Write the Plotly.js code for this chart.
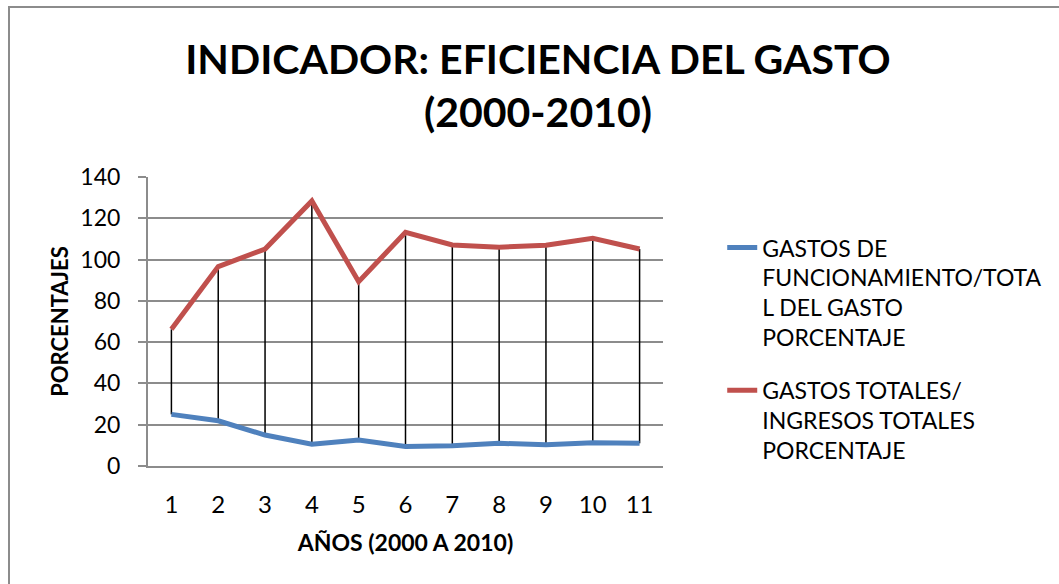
<!DOCTYPE html>
<html>
<head>
<meta charset="utf-8">
<script src="https://cdn.plot.ly/plotly-3.0.1.min.js"></script>
<style>
  html, body { margin: 0; padding: 0; background: #fff; }
  #wrap { position: relative; width: 1059px; height: 584px; overflow: hidden; }
  #chart { width: 1059px; height: 584px; }
  #frame { position: absolute; left: 8px; top: 6px; width: 1100px; height: 640px;
           border: 2px solid #8c8c8c; pointer-events: none; box-sizing: border-box; }
</style>
</head>
<body>
<div id="wrap">
  <div id="chart"></div>
  <div id="frame"></div>
</div>
<script>
// ---- data ----
const years = [1, 2, 3, 4, 5, 6, 7, 8, 9, 10, 11];
const gastosFuncionamiento = [25.0, 21.9, 15.0, 10.6, 12.6, 9.4, 9.8, 11.0, 10.3, 11.3, 11.0];
const gastosTotales = [66.2, 96.6, 105.1, 128.4, 89.3, 113.2, 107.1, 106.0, 106.9, 110.3, 105.1];
const seriesNames = [
  'GASTOS DE<br>FUNCIONAMIENTO/TOTA<br>L DEL GASTO<br>PORCENTAJE',
  'GASTOS TOTALES/<br>INGRESOS TOTALES<br>PORCENTAJE'
];
const yTicks = [0, 20, 40, 60, 80, 100, 120, 140];

// high-low lines built from the two series
const hlX = [], hlY = [];
years.forEach((yr, i) => {
  hlX.push(yr, yr, null);
  hlY.push(gastosFuncionamiento[i], gastosTotales[i], null);
});

const FONT = 'Lato, "Open Sans", sans-serif';

const traces = [
  {
    x: hlX, y: hlY, mode: 'lines', type: 'scatter',
    line: { color: '#000000', width: 1.5 },
    showlegend: false, hoverinfo: 'skip'
  },
  {
    x: years, y: gastosFuncionamiento, mode: 'lines', type: 'scatter',
    name: seriesNames[0], legendgroup: 'a',
    line: { color: '#4F81BD', width: 5 }
  },
  {
    x: years, y: gastosTotales, mode: 'lines', type: 'scatter',
    name: seriesNames[1], legendgroup: 'b',
    line: { color: '#C0504D', width: 5 }
  }
];

const layout = {
  width: 1059, height: 584,
  paper_bgcolor: '#ffffff', plot_bgcolor: '#ffffff',
  margin: { l: 148, r: 396, t: 177, b: 118, pad: 0 },
  font: { family: FONT, color: '#000000', size: 22 },
  title: {
    text: '<b>INDICADOR: EFICIENCIA DEL GASTO<br>(2000-2010)</b>',
    font: { family: FONT, size: 41, color: '#000000' },
    x: 0.508, xanchor: 'center', xref: 'container',
    y: 1 - 74 / 584, yanchor: 'top', yref: 'container'
  },
  xaxis: {
    range: [0.5, 11.5], tickmode: 'array', tickvals: years, ticktext: years.map(String),
    showgrid: false, zeroline: false,
    showline: true, linecolor: '#8c8c8c', linewidth: 2,
    ticks: '', ticklen: 0, ticklabelstandoff: 16,
    tickfont: { family: FONT, size: 24, color: '#000000' },
    title: { text: '<b>AÑOS (2000 A 2010)</b>', font: { family: FONT, size: 23, color: '#000000' }, standoff: 18 },
    fixedrange: true
  },
  yaxis: {
    range: [0, 140], tickmode: 'array', tickvals: yTicks,
    showgrid: true, gridcolor: '#8c8c8c', gridwidth: 2,
    zeroline: false,
    showline: true, linecolor: '#8c8c8c', linewidth: 2,
    ticks: 'outside', ticklen: 8, tickcolor: '#8c8c8c', tickwidth: 2, ticklabelstandoff: 13,
    tickfont: { family: FONT, size: 23, color: '#000000' },
    title: { text: '<b>PORCENTAJES</b>', font: { family: FONT, size: 22, color: '#000000' }, standoff: 6 },
    fixedrange: true
  },
  legend: {
    x: 1.115, xanchor: 'left', y: 0.83, yanchor: 'top',
    font: { family: FONT, size: 23, color: '#000000' },
    valign: 'top', tracegroupgap: 20,
    bgcolor: 'rgba(0,0,0,0)', borderwidth: 0
  },
  showlegend: true
};

Plotly.newPlot('chart', traces, layout, { displayModeBar: false, staticPlot: true });
</script>
</body>
</html>
